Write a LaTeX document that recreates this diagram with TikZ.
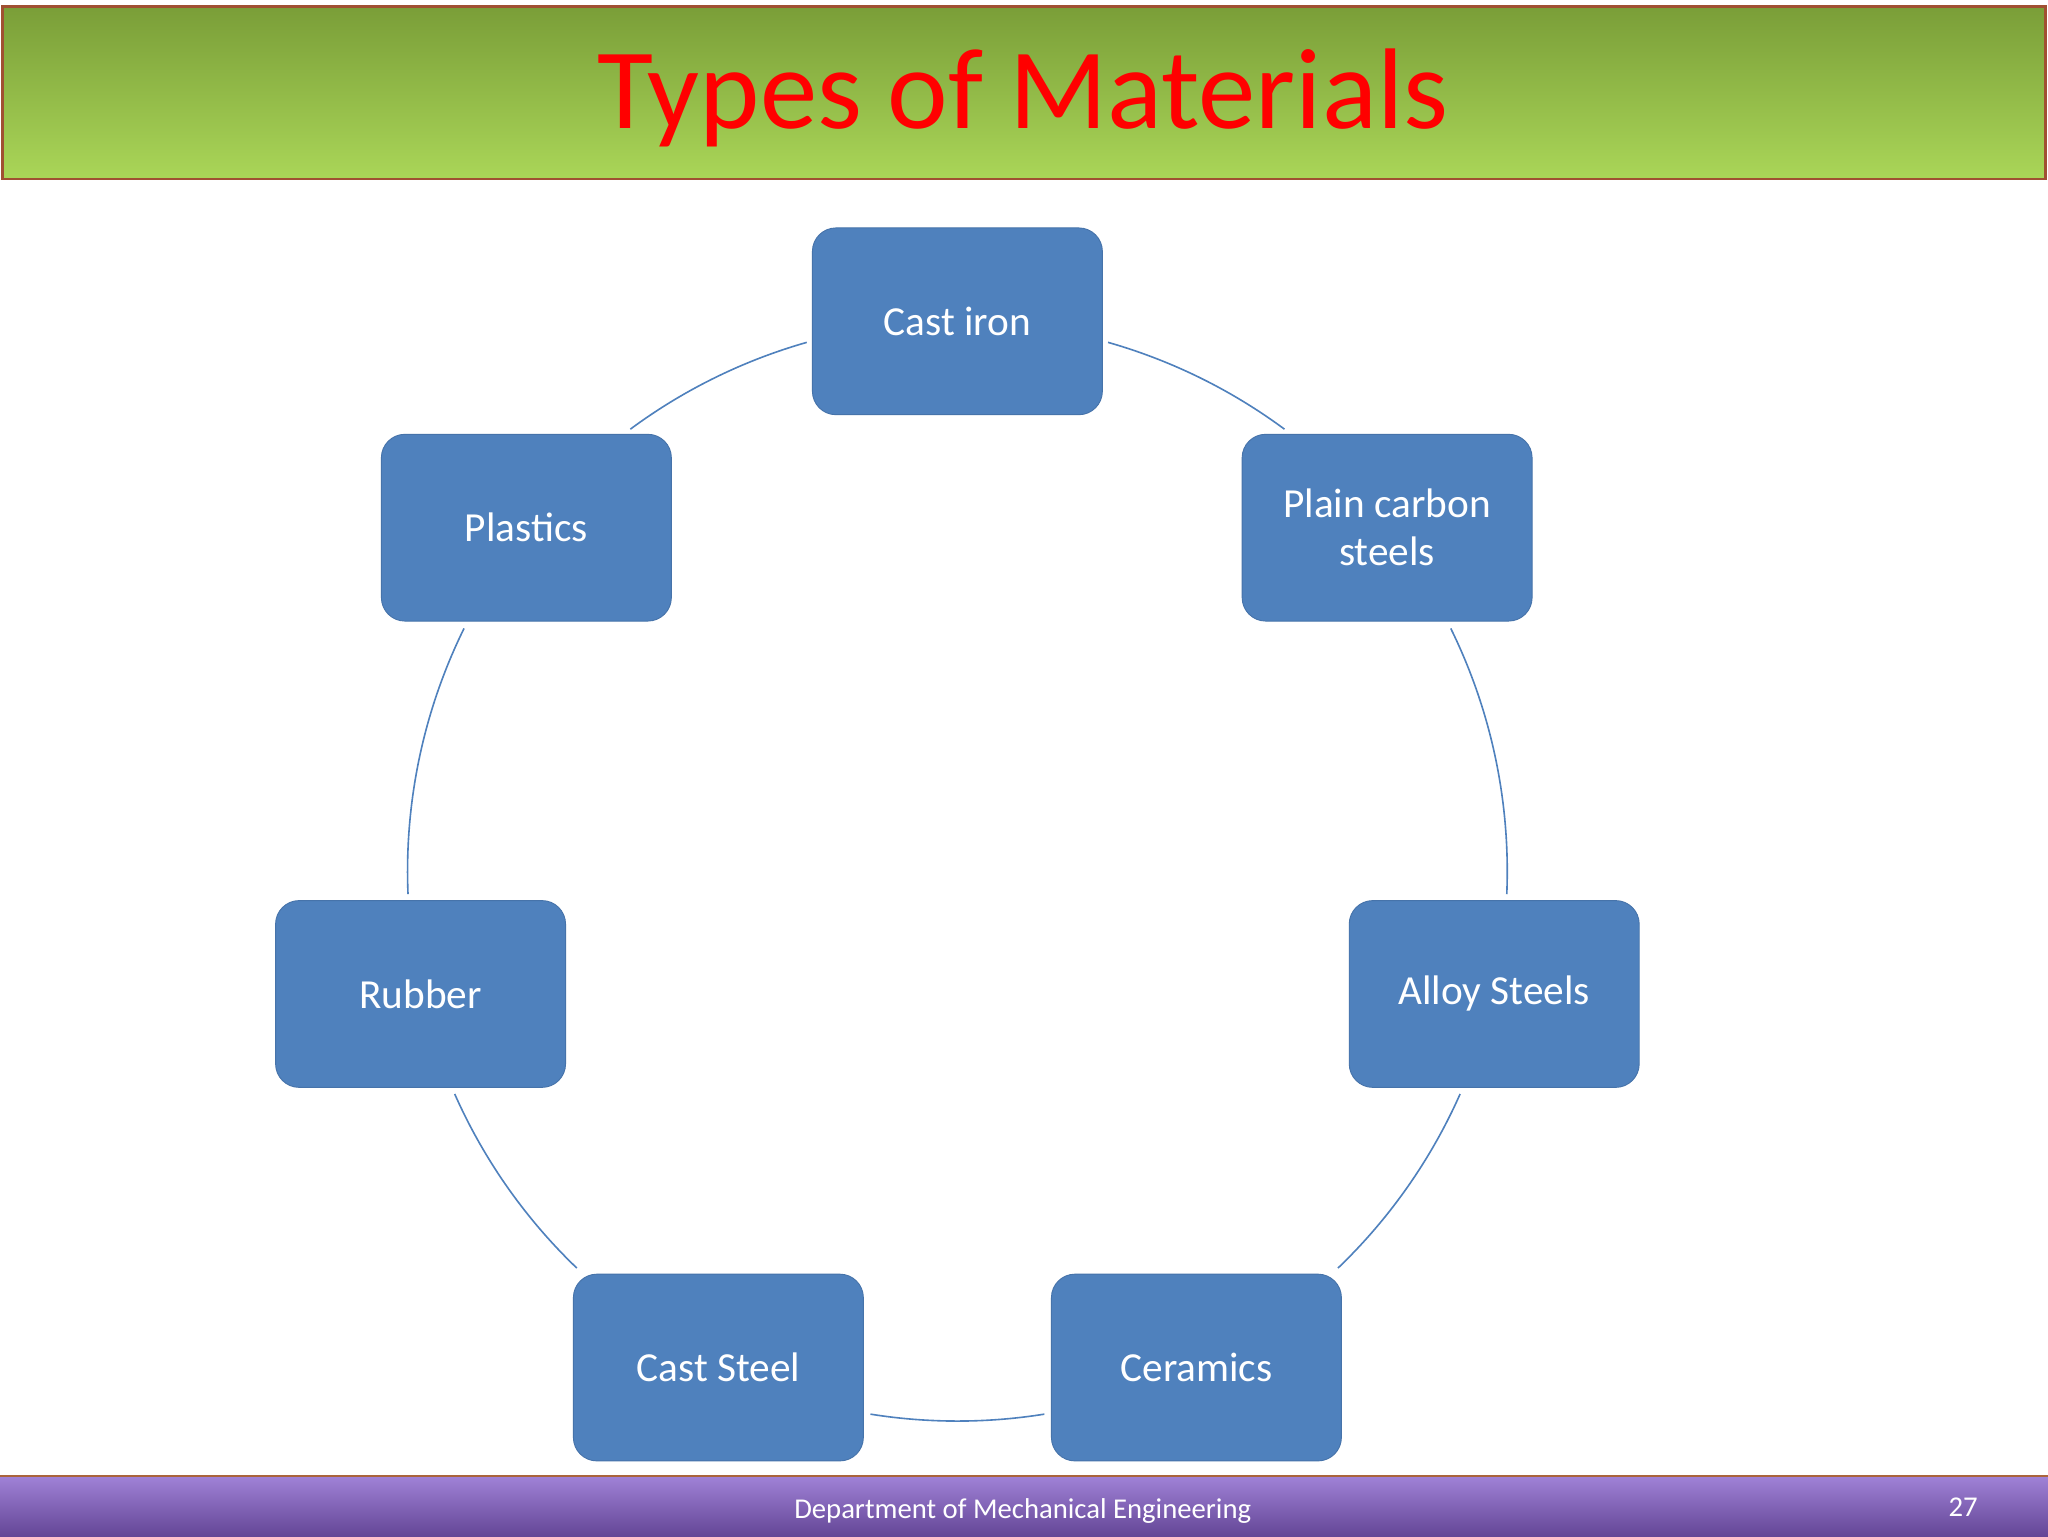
\documentclass[tikz,border=0pt]{standalone}
\usepackage{fontspec}
\setmainfont{Carlito}
\definecolor{boxblue}{RGB}{79,129,189}
\definecolor{boxedge}{RGB}{70,115,170}
\definecolor{gtop}{RGB}{122,158,56}
\definecolor{gbot}{RGB}{170,214,88}
\definecolor{hedge}{RGB}{160,80,50}
\definecolor{ptop}{RGB}{160,130,215}
\definecolor{pbot}{RGB}{100,70,150}
\definecolor{fedge}{RGB}{170,100,60}
\begin{document}
\begin{tikzpicture}
\tikzset{mbox/.style={fill=boxblue,draw=boxedge,rounded corners=0.36cm,minimum width=4.44cm,minimum height=2.86cm,align=center,text=white,font=\fontsize{18}{21}\selectfont},
ring/.style={draw=boxblue,line width=0.7pt}}
\useasboundingbox (0,0) rectangle (31.36,-23.52);
\fill[white] (0,0) rectangle (31.36,-23.52);
\shade[top color=gtop,bottom color=gbot] (0.04,-0.1) rectangle (31.32,-2.74);
\draw[hedge,line width=1.2pt] (0.04,-0.1) rectangle (31.32,-2.74);
\node[text=red,font=\fontsize{50}{56}\selectfont] (title) at (15.66,-1.5) {Types of Materials};
\shade[top color=ptop,bottom color=pbot] (0,-22.6) rectangle (31.36,-23.52);
\draw[fedge,line width=0.8pt] (0,-22.6) -- (31.36,-22.6);
\node[text=white,font=\fontsize{12.5}{14}\selectfont] (foot) at (15.66,-23.14) {Department of Mechanical Engineering};
\node[text=white,font=\fontsize{12.5}{14}\selectfont] (pg) at (30.06,-23.08) {27};
\node[mbox] (ci) at (14.66,-4.92) {Cast iron};
\node[mbox] (pc) at (21.24,-8.08) {Plain carbon\\steels};
\node[mbox] (as) at (22.88,-15.22) {Alloy Steels};
\node[mbox] (ce) at (18.32,-20.94) {Ceramics};
\node[mbox] (cs) at (11.0,-20.94) {Cast Steel};
\node[mbox] (ru) at (6.44,-15.22) {Rubber};
\node[mbox] (pl) at (8.06,-8.08) {Plastics};
\coordinate (c) at (14.66,-13.34);
\draw[ring] (c) ++(74.1:8.42) arc[start angle=74.1,end angle=53.5,radius=8.42];
\draw[ring] (c) ++(26.2:8.42) arc[start angle=26.2,end angle=-2.4,radius=8.42];
\draw[ring] (c) ++(-23.9:8.42) arc[start angle=-23.9,end angle=-46.2,radius=8.42];
\draw[ring] (c) ++(-80.9:8.42) arc[start angle=-80.9,end angle=-99.1,radius=8.42];
\draw[ring] (c) ++(-133.8:8.42) arc[start angle=-133.8,end angle=-156.1,radius=8.42];
\draw[ring] (c) ++(182.4:8.42) arc[start angle=182.4,end angle=153.8,radius=8.42];
\draw[ring] (c) ++(126.5:8.42) arc[start angle=126.5,end angle=105.9,radius=8.42];
\end{tikzpicture}
\end{document}
